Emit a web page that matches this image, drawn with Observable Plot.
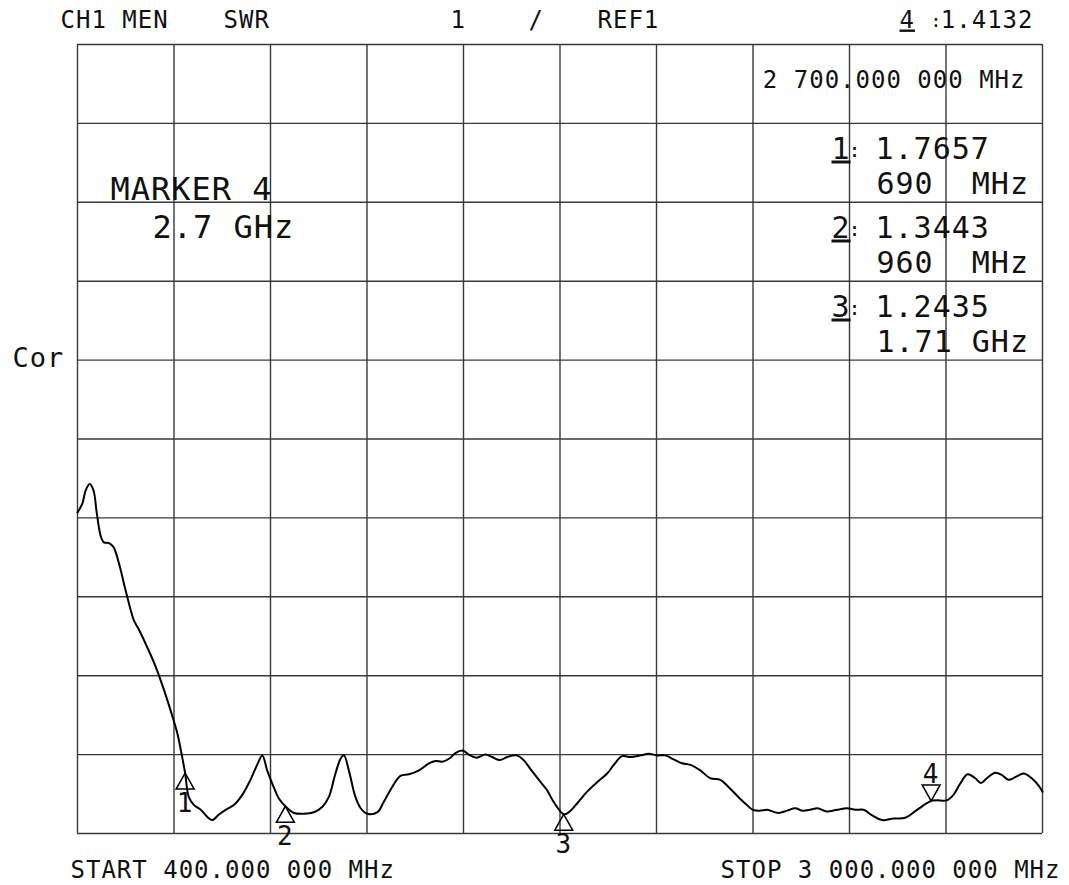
<!DOCTYPE html>
<html>
<head>
<meta charset="utf-8">
<script src="https://cdn.jsdelivr.net/npm/d3@7"></script>
<script src="https://cdn.jsdelivr.net/npm/@observablehq/plot@0.6"></script>
<style>
html, body { margin: 0; padding: 0; background: #fff; }
#chart svg text { letter-spacing: 1px; }
</style>
</head>
<body>
<div id="chart"></div>
<script>
// ---- trace (frequency in MHz, SWR) ----
const freqMHz = [400, 413, 422, 433, 443, 452, 462, 471, 485, 497,
  512, 525, 539, 552, 566, 588, 611, 633, 656, 669,
  682, 690, 700, 714, 732, 750, 763, 781, 799, 821,
  844, 866, 884, 898, 911, 925, 943, 960, 983, 1010,
  1037, 1060, 1077, 1095, 1109, 1118, 1131, 1149, 1163, 1181,
  1208, 1225, 1248, 1270, 1293, 1320, 1347, 1365, 1383, 1405,
  1418, 1439, 1454, 1475, 1499, 1517, 1538, 1558, 1583, 1602,
  1620, 1643, 1665, 1683, 1710, 1724, 1746, 1773, 1800, 1827,
  1845, 1867, 1890, 1917, 1939, 1962, 1984, 2006, 2029, 2051,
  2078, 2105, 2132, 2154, 2181, 2199, 2220, 2240, 2258, 2289,
  2312, 2334, 2352, 2374, 2394, 2419, 2446, 2473, 2496, 2518,
  2541, 2567, 2599, 2630, 2662, 2700, 2716, 2742, 2760, 2778,
  2798, 2819, 2834, 2850, 2873, 2891, 2908, 2929, 2949, 2971,
  2989, 3000];
const swr = [5.07, 5.18, 5.35, 5.43, 5.35, 5.06, 4.78, 4.69, 4.68, 4.63,
  4.42, 4.17, 3.91, 3.70, 3.58, 3.36, 3.11, 2.82, 2.48, 2.27,
  1.97, 1.7657, 1.46, 1.36, 1.30, 1.21, 1.17, 1.24, 1.30, 1.36,
  1.49, 1.68, 1.87, 1.99, 1.80, 1.63, 1.44, 1.3443, 1.26, 1.25,
  1.27, 1.34, 1.46, 1.76, 1.95, 1.99, 1.80, 1.46, 1.32, 1.25,
  1.27, 1.40, 1.59, 1.73, 1.75, 1.80, 1.89, 1.92, 1.91, 1.96,
  2.02, 2.05, 2.00, 1.96, 2.00, 1.97, 1.93, 1.97, 1.99, 1.93,
  1.82, 1.68, 1.55, 1.40, 1.2435, 1.27, 1.38, 1.53, 1.65, 1.76,
  1.87, 1.98, 1.97, 1.99, 2.01, 1.99, 1.99, 1.94, 1.89, 1.87,
  1.80, 1.70, 1.68, 1.59, 1.46, 1.38, 1.30, 1.29, 1.30, 1.26,
  1.29, 1.32, 1.29, 1.30, 1.32, 1.28, 1.30, 1.32, 1.30, 1.30,
  1.23, 1.17, 1.19, 1.20, 1.30, 1.4132, 1.42, 1.42, 1.49, 1.63,
  1.75, 1.70, 1.64, 1.70, 1.77, 1.74, 1.68, 1.72, 1.76, 1.70,
  1.61, 1.53];

// ---- markers ----
const markerIds = [1, 2, 3, 4];
const markerFreqMHz = [690, 960, 1710, 2700];
const markerSWR = [1.7657, 1.3443, 1.2435, 1.4132];
const markerValueText = ["1.7657", "1.3443", "1.2435", "1.4132"];
const markerFreqText = ["690  MHz", "960  MHz", "1.71 GHz", "2 700.000 000 MHz"];

// ---- graticule ----
const xGrid = [400, 660, 920, 1180, 1440, 1700, 1960, 2220, 2480, 2740, 3000];
const yGrid = [1, 2, 3, 4, 5, 6, 7, 8, 9, 10, 11];

// ---- texts ----
const headerTexts = ["CH1 MEN", "SWR", "1", "/", "REF1"];
const activeMarkerText = ["MARKER 4", "2.7 GHz"];
const startText = "START 400.000 000 MHz";
const stopText = "STOP 3 000.000 000 MHz";
const yLabel = "Cor";

const trace = freqMHz.map((f, i) => ({f, s: swr[i]}));
const markers = markerIds.map((id, i) => ({id, f: markerFreqMHz[i], s: markerSWR[i]}));

const FONT = "DejaVu Sans Mono";
const ML = 77, MR = 27, MT = 44, MB = 52;
const INK = "#111";
const UNDER = "#121212"; // tag for underlined marker numbers

const triUp = {draw(ctx) { ctx.moveTo(0, 0); ctx.lineTo(9, 16); ctx.lineTo(-9, 16); ctx.closePath(); }};
const triDown = {draw(ctx) { ctx.moveTo(0, 0); ctx.lineTo(9, -16); ctx.lineTo(-9, -16); ctx.closePath(); }};

const anno = (text, px, py, size, anchor = "start", fill = INK) => Plot.text([String(text)], {
  frameAnchor: "top-left", dx: px - ML, dy: py - MT,
  textAnchor: anchor, lineAnchor: "bottom",
  fontSize: size, fontFamily: FONT, fill
});

const readouts = [];
for (let i = 0; i < 3; i++) {
  readouts.push(anno(markerIds[i], 831, 158 + 79 * i, 30, "start", UNDER));
  readouts.push(anno(":", 848, 156 + 79 * i, 20));
  readouts.push(anno(markerValueText[i], 875, 158 + 79 * i, 30));
  readouts.push(anno(markerFreqText[i], 876, 193 + 79 * i, 30));
}

const chart = Plot.plot({
  width: 1069, height: 885,
  marginLeft: ML, marginRight: MR, marginTop: MT, marginBottom: MB,
  style: {background: "#fff", fontFamily: FONT},
  x: {domain: [400, 3000], axis: null},
  y: {domain: [1, 11], axis: null},
  marks: [
    Plot.ruleX(xGrid, {stroke: "#383838", strokeWidth: 1.4}),
    Plot.ruleY(yGrid, {stroke: "#383838", strokeWidth: 1.4}),
    Plot.line(trace, {x: "f", y: "s", curve: "catmull-rom", stroke: "#000", strokeWidth: 2}),
    Plot.dot(markers.slice(0, 3), {x: "f", y: "s", symbol: triUp, fill: "none", stroke: "#000", strokeWidth: 1.5}),
    Plot.dot(markers.slice(3), {x: "f", y: "s", symbol: triDown, fill: "none", stroke: "#000", strokeWidth: 1.5}),
    Plot.text(markers.slice(0, 3), {x: "f", y: "s", text: d => String(d.id), dy: 39, lineAnchor: "bottom", fontSize: 26, fontFamily: FONT, fill: INK}),
    Plot.text(markers.slice(3), {x: "f", y: "s", text: d => String(d.id), dy: -18, lineAnchor: "bottom", fontSize: 26, fontFamily: FONT, fill: INK}),
    anno(headerTexts[0], 60, 27, 24),
    anno(headerTexts[1], 223, 27, 24),
    anno(headerTexts[2], 450, 27, 24),
    anno(headerTexts[3], 528, 27, 24),
    anno(headerTexts[4], 597, 27, 24),
    anno(markerIds[3], 899, 27, 24, "start", UNDER),
    anno(":", 930, 26, 18),
    anno(markerValueText[3], 1033, 27, 24, "end"),
    anno(markerFreqText[3], 1025, 87, 24, "end"),
    ...readouts,
    anno(activeMarkerText[0], 110, 199, 32),
    anno(activeMarkerText[1], 152, 237, 32),
    anno(yLabel, 12, 366, 27),
    anno(startText, 70, 877, 24),
    anno(stopText, 1060, 877, 24, "end")
  ]
});
d3.select(chart).selectAll("g").filter(function() {
  return (this.getAttribute("fill") || "").toLowerCase() === UNDER;
}).selectAll("text").style("text-decoration", "underline");
document.getElementById("chart").append(chart);
</script>
</body>
</html>
